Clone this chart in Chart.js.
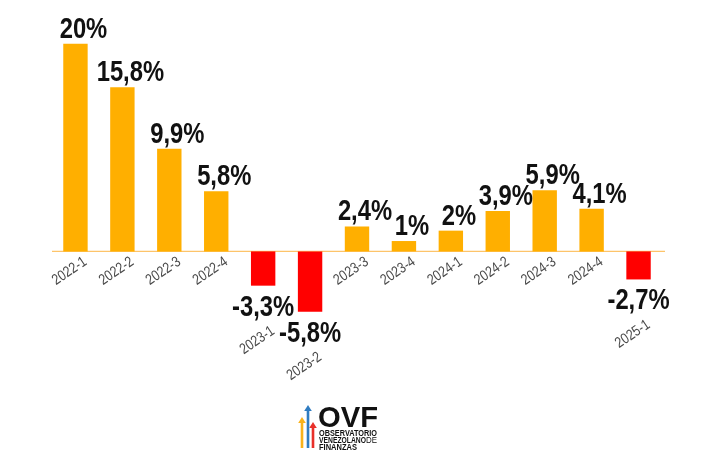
<!DOCTYPE html>
<html>
<head>
<meta charset="utf-8">
<script src="https://cdn.jsdelivr.net/npm/chart.js@4.4.1/dist/chart.umd.min.js"></script>
<style>
  html, body { margin: 0; padding: 0; background: #fff; }
  #wrap { width: 705px; height: 474px; position: relative; }
</style>
</head>
<body>
<div id="wrap"><canvas id="grafico"></canvas></div>
<script>
// Trimestres y variación (%)
const trimestres = ['2022-1', '2022-2', '2022-3', '2022-4', '2023-1', '2023-2', '2023-3',
                    '2023-4', '2024-1', '2024-2', '2024-3', '2024-4', '2025-1'];
const variacion = [20, 15.8, 9.9, 5.8, -3.3, -5.8, 2.4, 1, 2, 3.9, 5.9, 4.1, -2.7];
const ejeY = { min: -12, max: 22 };

const colores = {
    positivo: '#FFAF00',
    negativo: '#FF0000',
    lineaCero: '#FDC46A',
    texto: '#111111',
    categoria: '#4a4a4a'
};

// Arial estrechada al 82% (tipo Arial Narrow)
const fuente = '"Liberation Sans", Arial, sans-serif';
const estrecho = 0.82;

function formatoPct(v) {
    return String(v).replace('.', ',') + '%';
}

function textoEstrecho(ctx, texto, x, y) {
    ctx.save();
    ctx.translate(x, y);
    ctx.scale(estrecho, 1);
    ctx.fillText(texto, 0, 0);
    ctx.restore();
}

// Línea base, etiquetas y logo
const etiquetasPlugin = {
    id: 'etiquetas',
    beforeDatasetsDraw(chart) {
        const { ctx, chartArea, scales } = chart;
        const y0 = scales.y.getPixelForValue(0);
        ctx.save();
        ctx.strokeStyle = colores.lineaCero;
        ctx.lineWidth = 1.2;
        ctx.beginPath();
        ctx.moveTo(chartArea.left, y0);
        ctx.lineTo(chartArea.right + 3, y0);
        ctx.stroke();
        ctx.restore();
    },
    afterDatasetsDraw(chart) {
        const { ctx, scales } = chart;
        const meta = chart.getDatasetMeta(0);
        const y0 = scales.y.getPixelForValue(0);
        ctx.save();
        meta.data.forEach((bar, i) => {
            const v = variacion[i];
            const x = bar.x;
            // valor
            ctx.font = 'bold 29px ' + fuente;
            ctx.fillStyle = colores.texto;
            ctx.textAlign = 'center';
            ctx.textBaseline = 'alphabetic';
            let yCat;
            if (v >= 0) {
                textoEstrecho(ctx, formatoPct(v), x + 8, bar.y - 6);
                yCat = y0 + 9;
            } else {
                textoEstrecho(ctx, formatoPct(v), x, bar.y + 30);
                yCat = bar.y + 44;
            }
            // categoría rotada
            ctx.save();
            ctx.translate(x + 10, yCat);
            ctx.rotate(-34 * Math.PI / 180);
            ctx.scale(estrecho, 1);
            ctx.font = '15px ' + fuente;
            ctx.fillStyle = colores.categoria;
            ctx.textAlign = 'right';
            ctx.textBaseline = 'middle';
            ctx.fillText(trimestres[i], 0, 0);
            ctx.restore();
        });
        ctx.restore();
    },
    afterDraw(chart) {
        const ctx = chart.ctx;
        ctx.save();
        // flechas
        const flecha = (x, yTip, yBase, color) => {
            ctx.fillStyle = color;
            ctx.fillRect(x - 1.3, yTip + 5, 2.6, yBase - yTip - 5);
            ctx.beginPath();
            ctx.moveTo(x, yTip);
            ctx.lineTo(x + 3.8, yTip + 6);
            ctx.lineTo(x - 3.8, yTip + 6);
            ctx.closePath();
            ctx.fill();
        };
        flecha(302, 417, 448, '#F9B21B');
        flecha(313, 422, 448, '#E8302A');
        flecha(308, 405, 448, '#2F7CC1');
        // texto
        ctx.fillStyle = '#111';
        ctx.textAlign = 'left';
        ctx.textBaseline = 'alphabetic';
        ctx.font = 'bold 30px ' + fuente;
        ctx.fillText('OVF', 318, 427, 60);
        ctx.font = 'bold 9px ' + fuente;
        ctx.fillText('OBSERVATORIO', 319, 436, 58);
        ctx.fillText('VENEZOLANO', 319, 443, 47);
        ctx.font = '9px ' + fuente;
        ctx.fillText('DE', 366, 443, 11);
        ctx.font = 'bold 9px ' + fuente;
        ctx.fillText('FINANZAS', 319, 450, 38);
        ctx.restore();
    }
};

new Chart(document.getElementById('grafico').getContext('2d'), {
    type: 'bar',
    data: {
        labels: trimestres,
        datasets: [{
            data: variacion,
            backgroundColor: variacion.map(v => v >= 0 ? colores.positivo : colores.negativo),
            borderWidth: 0,
            barPercentage: 0.52,
            categoryPercentage: 1
        }]
    },
    options: {
        responsive: true,
        maintainAspectRatio: false,
        animation: false,
        layout: { padding: { left: 52, right: 43, top: 23, bottom: 98 } },
        plugins: {
            legend: { display: false },
            tooltip: { enabled: false }
        },
        scales: {
            x: { display: false },
            y: { display: false, min: ejeY.min, max: ejeY.max }
        }
    },
    plugins: [etiquetasPlugin]
});
</script>
</body>
</html>
